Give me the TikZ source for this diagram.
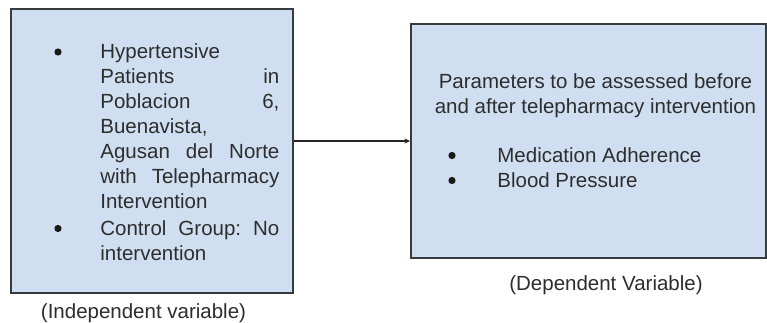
\documentclass[tikz,border=0pt]{standalone}
\usepackage{fontspec}
\setmainfont{Liberation Sans}
\usepackage{xcolor}
\usetikzlibrary{arrows.meta,positioning}
\definecolor{boxblue}{RGB}{207,223,241}
\definecolor{boxline}{RGB}{55,58,62}
\definecolor{inktext}{RGB}{45,45,45}

\begin{document}
\begin{tikzpicture}[
  x=0.5pt, y=-0.5pt,
  font=\fontsize{10.25}{12.5}\selectfont,
  varbox/.style={draw=boxline, line width=1pt, fill=boxblue, inner sep=0pt},
  itemtext/.style={inner sep=0pt, text=inktext, align=left, anchor=north west},
  dot/.style={circle, fill=black!90, inner sep=0pt, minimum size=3.6pt},
  caption/.style={inner sep=0pt, text=inktext, anchor=base},
  link/.style={-{Stealth[length=2.8pt, width=2.6pt]}, line width=0.8pt, black!85}
]
  \useasboundingbox (0,0) rectangle (767,322);

  \node[varbox, minimum width=141pt, minimum height=142pt] (indep) at (152,151) {};
  \node[varbox, minimum width=177.5pt, minimum height=117pt] (dep) at (588.5,141) {};

  \draw[link] (dep.west -| indep.east) -- (dep.west);

  % Independent variable
  \node[dot] (b1) at (58,52) {};
  \node[itemtext, text width=89.5pt] (patients) at (100,43.3)
    {Hypertensive\\
     Patients\hfill in\\
     Poblacion\hfill 6,\\
     Buenavista,\\
     Agusan\hfill del\hfill Norte\\
     with\hfill Telepharmacy\\
     Intervention};
  \node[dot] (b2) at (58,228.5) {};
  \node[itemtext, text width=89.5pt] (control) at (100,220.3)
    {Control\hfill Group:\hfill No\\
     intervention};

  % Dependent variable
  \node[inner sep=0pt, text=inktext, align=center, anchor=north] (params) at (595.5,73.3)
    {Parameters to be assessed before\\ and after telepharmacy intervention};
  \node[dot] (b3) at (452,155.5) {};
  \node[dot] (b4) at (452,180.5) {};
  \node[itemtext] (measures) at (497,147.3)
    {Medication Adherence\\ Blood Pressure};

  \node[caption] (indeplabel) at (143.5,318) {(Independent variable)};
  \node[caption] (deplabel) at (606,290) {(Dependent Variable)};
\end{tikzpicture}
\end{document}
